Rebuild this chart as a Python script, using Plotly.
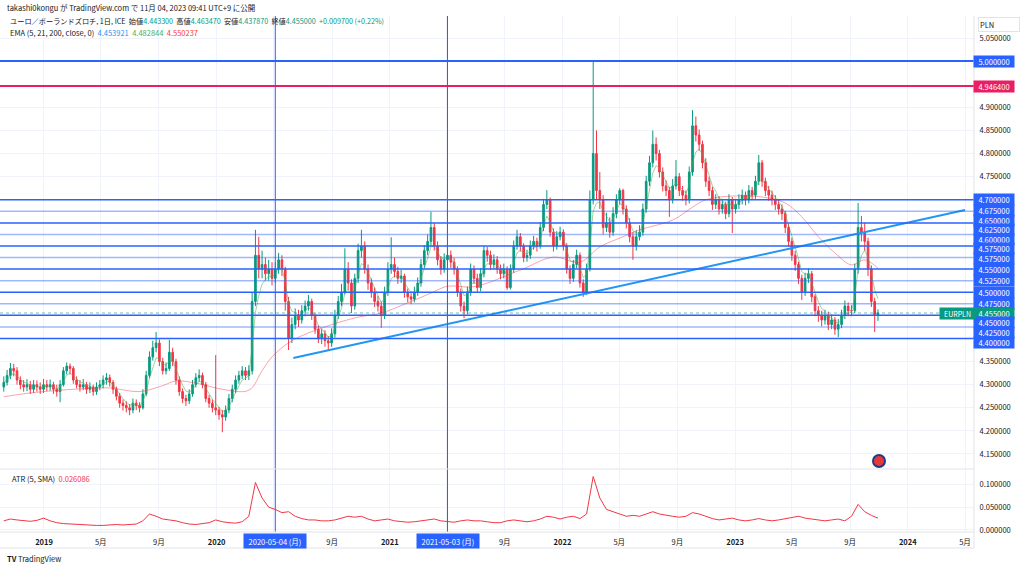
import plotly.graph_objects as go
import pandas as pd

FONT = "Noto Sans CJK JP"
UP = "#089981"
DN = "#f23645"

# ---------------- data (weekly candles) ----------------
dates = pd.date_range("2018-10-08", periods=265, freq="7D")

close = [4.305, 4.320, 4.335, 4.330, 4.310, 4.300, 4.295, 4.300, 4.290, 4.300,
         4.295, 4.290, 4.300, 4.295, 4.300, 4.290, 4.285, 4.300, 4.330, 4.340,
         4.335, 4.310, 4.300, 4.295, 4.300, 4.290, 4.295, 4.285, 4.295, 4.300,
         4.310, 4.315, 4.305, 4.290, 4.275, 4.260, 4.255, 4.250, 4.245, 4.260,
         4.255, 4.250, 4.280, 4.320, 4.360, 4.380, 4.390, 4.350, 4.330, 4.335,
         4.370, 4.350, 4.310, 4.285, 4.270, 4.265, 4.280, 4.300, 4.315, 4.320,
         4.300, 4.270, 4.260, 4.250, 4.245, 4.235, 4.230, 4.245, 4.270, 4.290,
         4.310, 4.320, 4.330, 4.320, 4.330, 4.480, 4.580, 4.550, 4.560, 4.540,
         4.550, 4.530, 4.550, 4.570, 4.550, 4.480, 4.400, 4.430, 4.450, 4.440,
         4.460, 4.470, 4.480, 4.450, 4.420, 4.400, 4.410, 4.395, 4.390, 4.410,
         4.450, 4.480, 4.500, 4.550, 4.520, 4.470, 4.530, 4.590, 4.600, 4.550,
         4.520, 4.500, 4.480, 4.470, 4.450, 4.500, 4.550, 4.560, 4.545, 4.530,
         4.535, 4.500, 4.490, 4.485, 4.500, 4.520, 4.560, 4.590, 4.610, 4.640,
         4.600, 4.570, 4.550, 4.570, 4.580, 4.565, 4.550, 4.500, 4.470, 4.460,
         4.500, 4.550, 4.530, 4.510, 4.540, 4.590, 4.580, 4.560, 4.570, 4.550,
         4.540, 4.550, 4.510, 4.550, 4.600, 4.620, 4.600, 4.575, 4.580, 4.600,
         4.610, 4.600, 4.640, 4.690, 4.700, 4.630, 4.600, 4.620, 4.630, 4.600,
         4.550, 4.530, 4.560, 4.580, 4.520, 4.500, 4.550, 4.700, 4.800, 4.720,
         4.700, 4.640, 4.650, 4.630, 4.670, 4.700, 4.720, 4.680, 4.650, 4.620,
         4.600, 4.620, 4.630, 4.680, 4.740, 4.780, 4.820, 4.800, 4.760, 4.730,
         4.720, 4.700, 4.730, 4.750, 4.720, 4.710, 4.700, 4.760, 4.860, 4.840,
         4.820, 4.780, 4.740, 4.720, 4.690, 4.700, 4.680, 4.690, 4.670, 4.700,
         4.680, 4.690, 4.700, 4.710, 4.700, 4.720, 4.710, 4.740, 4.780, 4.740,
         4.720, 4.710, 4.700, 4.690, 4.680, 4.670, 4.640, 4.610, 4.580, 4.560,
         4.530, 4.500, 4.530, 4.540, 4.490, 4.460, 4.450, 4.440, 4.450, 4.430,
         4.440, 4.420, 4.430, 4.450, 4.470, 4.460, 4.460, 4.550, 4.640, 4.630,
         4.610, 4.550, 4.480, 4.450, 4.455]

open_ = [4.295, 4.305, 4.320, 4.335, 4.330, 4.310, 4.300, 4.295, 4.300, 4.290,
         4.300, 4.295, 4.290, 4.300, 4.295, 4.300, 4.290, 4.285, 4.300, 4.330,
         4.340, 4.335, 4.310, 4.300, 4.295, 4.300, 4.290, 4.295, 4.285, 4.295,
         4.300, 4.310, 4.315, 4.305, 4.290, 4.275, 4.260, 4.255, 4.250, 4.245,
         4.260, 4.255, 4.250, 4.280, 4.320, 4.360, 4.380, 4.390, 4.350, 4.330,
         4.335, 4.370, 4.350, 4.310, 4.285, 4.270, 4.265, 4.280, 4.300, 4.315,
         4.320, 4.300, 4.270, 4.260, 4.250, 4.245, 4.235, 4.230, 4.245, 4.270,
         4.290, 4.310, 4.320, 4.330, 4.320, 4.330, 4.480, 4.580, 4.550, 4.560,
         4.540, 4.550, 4.530, 4.550, 4.570, 4.550, 4.480, 4.400, 4.430, 4.450,
         4.440, 4.460, 4.470, 4.480, 4.450, 4.420, 4.400, 4.410, 4.395, 4.390,
         4.410, 4.450, 4.480, 4.500, 4.550, 4.520, 4.470, 4.530, 4.590, 4.600,
         4.550, 4.520, 4.500, 4.480, 4.470, 4.450, 4.500, 4.550, 4.560, 4.545,
         4.530, 4.535, 4.500, 4.490, 4.485, 4.500, 4.520, 4.560, 4.590, 4.610,
         4.640, 4.600, 4.570, 4.550, 4.570, 4.580, 4.565, 4.550, 4.500, 4.470,
         4.460, 4.500, 4.550, 4.530, 4.510, 4.540, 4.590, 4.580, 4.560, 4.570,
         4.550, 4.540, 4.550, 4.510, 4.550, 4.600, 4.620, 4.600, 4.575, 4.580,
         4.600, 4.610, 4.600, 4.640, 4.690, 4.700, 4.630, 4.600, 4.620, 4.630,
         4.600, 4.550, 4.530, 4.560, 4.580, 4.520, 4.500, 4.550, 4.700, 4.800,
         4.720, 4.700, 4.640, 4.650, 4.630, 4.670, 4.700, 4.720, 4.680, 4.650,
         4.620, 4.600, 4.620, 4.630, 4.680, 4.740, 4.780, 4.820, 4.800, 4.760,
         4.730, 4.720, 4.700, 4.730, 4.750, 4.720, 4.710, 4.700, 4.760, 4.860,
         4.840, 4.820, 4.780, 4.740, 4.720, 4.690, 4.700, 4.680, 4.690, 4.670,
         4.700, 4.680, 4.690, 4.700, 4.710, 4.700, 4.720, 4.710, 4.740, 4.780,
         4.740, 4.720, 4.710, 4.700, 4.690, 4.680, 4.670, 4.640, 4.610, 4.580,
         4.560, 4.530, 4.500, 4.530, 4.540, 4.490, 4.460, 4.450, 4.440, 4.450,
         4.430, 4.440, 4.420, 4.430, 4.450, 4.470, 4.460, 4.460, 4.550, 4.640,
         4.630, 4.610, 4.550, 4.480, 4.450]

high = [4.318, 4.332, 4.347, 4.345, 4.338, 4.318, 4.310, 4.312, 4.308, 4.310,
        4.309, 4.305, 4.312, 4.310, 4.311, 4.306, 4.300, 4.310, 4.338, 4.348,
        4.346, 4.340, 4.318, 4.310, 4.312, 4.306, 4.305, 4.300, 4.305, 4.310,
        4.320, 4.325, 4.322, 4.310, 4.296, 4.282, 4.268, 4.264, 4.258, 4.270,
        4.268, 4.262, 4.290, 4.330, 4.372, 4.395, 4.414, 4.398, 4.358, 4.348,
        4.397, 4.380, 4.356, 4.318, 4.292, 4.278, 4.290, 4.310, 4.325, 4.333,
        4.326, 4.306, 4.278, 4.268, 4.364, 4.252, 4.245, 4.255, 4.280, 4.300,
        4.320, 4.330, 4.340, 4.338, 4.342, 4.500, 4.635, 4.620, 4.590, 4.575,
        4.570, 4.565, 4.565, 4.585, 4.580, 4.555, 4.490, 4.445, 4.465, 4.462,
        4.472, 4.482, 4.494, 4.486, 4.456, 4.428, 4.420, 4.418, 4.405, 4.422,
        4.462, 4.492, 4.518, 4.595, 4.565, 4.528, 4.540, 4.605, 4.635, 4.610,
        4.560, 4.530, 4.510, 4.492, 4.480, 4.512, 4.565, 4.619, 4.575, 4.555,
        4.548, 4.540, 4.508, 4.498, 4.512, 4.532, 4.572, 4.602, 4.625, 4.674,
        4.650, 4.610, 4.578, 4.584, 4.594, 4.590, 4.574, 4.556, 4.508, 4.480,
        4.512, 4.562, 4.558, 4.540, 4.552, 4.600, 4.598, 4.590, 4.582, 4.578,
        4.560, 4.562, 4.556, 4.560, 4.612, 4.635, 4.628, 4.606, 4.592, 4.612,
        4.622, 4.618, 4.652, 4.702, 4.721, 4.705, 4.638, 4.632, 4.642, 4.636,
        4.606, 4.558, 4.570, 4.592, 4.586, 4.528, 4.562, 4.720, 4.998, 4.850,
        4.760, 4.710, 4.672, 4.662, 4.684, 4.712, 4.725, 4.724, 4.688, 4.660,
        4.630, 4.634, 4.645, 4.692, 4.752, 4.795, 4.850, 4.835, 4.808, 4.770,
        4.742, 4.728, 4.745, 4.786, 4.758, 4.730, 4.720, 4.772, 4.894, 4.880,
        4.852, 4.828, 4.790, 4.750, 4.728, 4.712, 4.708, 4.702, 4.696, 4.712,
        4.706, 4.702, 4.712, 4.722, 4.718, 4.732, 4.728, 4.752, 4.797, 4.786,
        4.748, 4.730, 4.720, 4.710, 4.700, 4.690, 4.676, 4.648, 4.618, 4.590,
        4.566, 4.538, 4.542, 4.552, 4.546, 4.496, 4.470, 4.460, 4.462, 4.458,
        4.452, 4.446, 4.442, 4.462, 4.482, 4.478, 4.472, 4.562, 4.693, 4.665,
        4.650, 4.618, 4.558, 4.488, 4.463]

low = [4.285, 4.298, 4.312, 4.318, 4.300, 4.290, 4.285, 4.286, 4.280, 4.282,
       4.285, 4.280, 4.282, 4.286, 4.287, 4.280, 4.274, 4.262, 4.296, 4.322,
       4.322, 4.302, 4.292, 4.285, 4.288, 4.280, 4.282, 4.276, 4.278, 4.288,
       4.292, 4.300, 4.296, 4.280, 4.266, 4.250, 4.244, 4.240, 4.234, 4.238,
       4.245, 4.240, 4.246, 4.275, 4.314, 4.352, 4.370, 4.340, 4.322, 4.322,
       4.330, 4.340, 4.300, 4.276, 4.260, 4.254, 4.258, 4.274, 4.294, 4.306,
       4.292, 4.262, 4.250, 4.240, 4.234, 4.224, 4.197, 4.222, 4.238, 4.262,
       4.282, 4.302, 4.312, 4.310, 4.310, 4.322, 4.470, 4.530, 4.530, 4.525,
       4.525, 4.515, 4.520, 4.540, 4.535, 4.460, 4.375, 4.390, 4.420, 4.425,
       4.432, 4.448, 4.460, 4.440, 4.410, 4.390, 4.388, 4.382, 4.375, 4.382,
       4.402, 4.442, 4.470, 4.495, 4.505, 4.455, 4.462, 4.520, 4.575, 4.540,
       4.505, 4.488, 4.468, 4.458, 4.423, 4.442, 4.492, 4.540, 4.532, 4.518,
       4.520, 4.488, 4.478, 4.474, 4.478, 4.492, 4.512, 4.552, 4.580, 4.600,
       4.590, 4.558, 4.538, 4.542, 4.560, 4.552, 4.538, 4.490, 4.458, 4.444,
       4.452, 4.492, 4.518, 4.500, 4.502, 4.532, 4.566, 4.548, 4.550, 4.540,
       4.528, 4.530, 4.505, 4.506, 4.542, 4.592, 4.588, 4.565, 4.566, 4.572,
       4.592, 4.588, 4.594, 4.632, 4.680, 4.620, 4.588, 4.592, 4.612, 4.590,
       4.540, 4.518, 4.522, 4.552, 4.510, 4.490, 4.494, 4.545, 4.690, 4.700,
       4.680, 4.625, 4.630, 4.618, 4.622, 4.660, 4.690, 4.668, 4.638, 4.608,
       4.570, 4.590, 4.612, 4.622, 4.672, 4.730, 4.770, 4.785, 4.748, 4.718,
       4.708, 4.663, 4.692, 4.722, 4.708, 4.698, 4.688, 4.692, 4.752, 4.826,
       4.806, 4.768, 4.728, 4.708, 4.678, 4.680, 4.668, 4.670, 4.658, 4.662,
       4.628, 4.670, 4.680, 4.690, 4.688, 4.692, 4.700, 4.702, 4.732, 4.728,
       4.708, 4.698, 4.688, 4.678, 4.668, 4.656, 4.628, 4.598, 4.568, 4.546,
       4.518, 4.483, 4.492, 4.520, 4.478, 4.448, 4.436, 4.426, 4.430, 4.418,
       4.420, 4.408, 4.403, 4.422, 4.442, 4.448, 4.448, 4.455, 4.540, 4.610,
       4.590, 4.535, 4.468, 4.414, 4.438]

# EMA 200 read at these candle positions
ema200_idx = [0, 8, 17, 26, 32, 41, 48, 52, 59, 66, 74, 78, 81, 87, 97, 107, 114,
              122, 129, 134, 142, 156, 166, 174, 180, 187, 192, 202, 208, 212,
              220, 229, 236, 241, 246, 251, 256, 260, 264]
ema200_val = [4.274, 4.282, 4.288, 4.292, 4.293, 4.285, 4.298, 4.308, 4.302, 4.290,
              4.288, 4.330, 4.360, 4.395, 4.425, 4.446, 4.455, 4.477, 4.498, 4.513,
              4.512, 4.548, 4.576, 4.565, 4.598, 4.620, 4.635, 4.656, 4.684, 4.700,
              4.708, 4.706, 4.693, 4.663, 4.620, 4.585, 4.559, 4.570, 4.552]

# ATR (5, SMA), read every second candle
atr = [0.020, 0.024, 0.022, 0.020, 0.019, 0.021, 0.026, 0.020, 0.016, 0.014,
       0.013, 0.012, 0.011, 0.011, 0.010, 0.010, 0.011, 0.012, 0.011, 0.012,
       0.013, 0.020, 0.035, 0.030, 0.024, 0.022, 0.020, 0.016, 0.013, 0.012,
       0.014, 0.016, 0.022, 0.018, 0.016, 0.015, 0.018, 0.030, 0.104, 0.070,
       0.050, 0.045, 0.038, 0.040, 0.030, 0.025, 0.022, 0.022, 0.020, 0.020,
       0.022, 0.026, 0.030, 0.028, 0.030, 0.024, 0.020, 0.022, 0.024, 0.020,
       0.018, 0.017, 0.018, 0.020, 0.022, 0.024, 0.020, 0.018, 0.017, 0.020,
       0.022, 0.020, 0.020, 0.018, 0.016, 0.016, 0.020, 0.022, 0.020, 0.018,
       0.020, 0.024, 0.030, 0.028, 0.024, 0.028, 0.030, 0.025, 0.035, 0.117,
       0.070, 0.045, 0.040, 0.035, 0.030, 0.032, 0.030, 0.035, 0.040, 0.035,
       0.032, 0.030, 0.028, 0.030, 0.038, 0.035, 0.030, 0.025, 0.022, 0.024,
       0.026, 0.022, 0.020, 0.022, 0.025, 0.022, 0.020, 0.022, 0.025, 0.028,
       0.030, 0.026, 0.024, 0.022, 0.020, 0.022, 0.024, 0.020, 0.030, 0.056,
       0.040, 0.032, 0.026]

# horizontal levels drawn on the chart
levels_main = [4.40, 4.45, 4.50, 4.55, 4.60, 4.65, 4.70]
levels_minor = [4.425, 4.475, 4.525, 4.575, 4.625, 4.675]
level_top = 5.0
level_red = 4.9464
last_price = 4.455
trend_dates = ["2020-06-11", "2024-05-01"]
trend_vals = [4.3577, 4.678]
vlines = ["2020-05-04", "2021-05-03"]
vline_labels = ["2020-05-04 (月)", "2021-05-03 (月)"]

price_ticks = [4.15, 4.20, 4.25, 4.30, 4.35, 4.75, 4.80, 4.85, 4.90, 5.05]
atr_ticks = [0.0, 0.05, 0.10]
x_tickvals = ["2019-01-01", "2019-05-01", "2019-09-01", "2020-01-01", "2020-05-01",
              "2020-09-01", "2021-01-01", "2021-05-01", "2021-09-01", "2022-01-01",
              "2022-05-01", "2022-09-01", "2023-01-01", "2023-05-01", "2023-09-01",
              "2024-01-01", "2024-05-01"]
x_ticktext = ["<b>2019</b>", "5月", "9月", "<b>2020</b>", "", "9月", "<b>2021</b>", "",
              "9月", "<b>2022</b>", "5月", "9月", "<b>2023</b>", "5月", "9月",
              "<b>2024</b>", "5月"]

# price-scale labels: (text, pixel row, colour)
axis_labels = [("5.000000", 61, "#2962ff"), ("4.946400", 86, "#e91e63"),
               ("4.700000", 199.5, "#2962ff"), ("4.675000", 210.7, "#2962ff"),
               ("4.650000", 220.2, "#2962ff"), ("4.625000", 229.6, "#2962ff"),
               ("4.600000", 239.1, "#2962ff"), ("4.575000", 248.7, "#2962ff"),
               ("4.575000", 258.3, "#2962ff"), ("4.550000", 269.3, "#2962ff"),
               ("4.525000", 280.7, "#2962ff"), ("4.500000", 292.3, "#2962ff"),
               ("4.475000", 303.3, "#2962ff"), ("4.455000", 313.3, UP),
               ("4.450000", 322.8, "#2962ff"), ("4.425000", 332.3, "#2962ff"),
               ("4.400000", 342.0, "#2962ff")]

# ---------------- figure ----------------
W, H = 1024, 568
MT, MB, ML, MR = 16, 36, 0, 50
PH = H - MT - MB


def py(px):
    return (H - MB - px) / PH


ema21 = pd.Series(close).ewm(alpha=0.38, adjust=False).mean()

fig = go.Figure()
fig.add_trace(go.Candlestick(
    x=dates, open=open_, high=high, low=low, close=close,
    increasing=dict(line=dict(color=UP, width=1), fillcolor=UP),
    decreasing=dict(line=dict(color=DN, width=1), fillcolor=DN),
    whiskerwidth=0, xaxis="x", yaxis="y", hoverinfo="skip"))
fig.add_trace(go.Scatter(x=dates, y=ema21, mode="lines",
                         line=dict(color="rgba(76,175,80,0.55)", width=1),
                         xaxis="x", yaxis="y", hoverinfo="skip"))
fig.add_trace(go.Scatter(x=[dates[i] for i in ema200_idx], y=ema200_val, mode="lines",
                         line=dict(color="rgba(242,54,69,0.45)", width=1, shape="spline"),
                         xaxis="x", yaxis="y", hoverinfo="skip"))
fig.add_trace(go.Scatter(x=trend_dates, y=trend_vals, mode="lines",
                         line=dict(color="#2196f3", width=2),
                         xaxis="x", yaxis="y", hoverinfo="skip"))
fig.add_trace(go.Scatter(x=dates[::2][:len(atr)], y=atr, mode="lines",
                         line=dict(color="#f23645", width=1),
                         xaxis="x", yaxis="y2", hoverinfo="skip"))

shapes = []
for lv in levels_minor:
    shapes.append(dict(type="line", xref="paper", x0=0, x1=1, yref="y", y0=lv, y1=lv,
                       line=dict(color="rgba(41,98,255,0.45)", width=1.5)))
for lv in levels_main:
    shapes.append(dict(type="line", xref="paper", x0=0, x1=1, yref="y", y0=lv, y1=lv,
                       line=dict(color="#2962ff", width=1.5)))
shapes.append(dict(type="line", xref="paper", x0=0, x1=1, yref="y", y0=level_top,
                   y1=level_top, line=dict(color="#2962ff", width=2)))
shapes.append(dict(type="line", xref="paper", x0=0, x1=1, yref="y", y0=level_red,
                   y1=level_red, line=dict(color="#e91e63", width=2)))
shapes.append(dict(type="line", xref="paper", x0=0, x1=1, yref="y", y0=last_price,
                   y1=last_price, line=dict(color="rgba(8,153,129,0.6)", width=1, dash="dot")))
for d in vlines:
    shapes.append(dict(type="line", xref="x", x0=d, x1=d, yref="paper", y0=0, y1=1,
                       line=dict(color="#2962ff", width=1)))
# frame / separators
shapes.append(dict(type="line", xref="paper", x0=0, x1=1, yref="paper",
                   y0=py(469), y1=py(469), line=dict(color="#e0e3eb", width=1)))
shapes.append(dict(type="line", xref="paper", x0=1, x1=1, yref="paper",
                   y0=py(548), y1=py(16), line=dict(color="#e0e3eb", width=1)))
shapes.append(dict(type="line", xref="paper", x0=0, x1=1, yref="paper",
                   y0=0, y1=0, line=dict(color="#e0e3eb", width=1)))
shapes.append(dict(type="line", xref="paper", x0=0, x1=1, yref="paper",
                   y0=py(548), y1=py(548), line=dict(color="#e0e3eb", width=1)))
# marker circle near the bottom of price pane
shapes.append(dict(type="circle", xref="paper", yref="paper",
                   x0=873 / (W - ML - MR), x1=885 / (W - ML - MR),
                   y0=py(467), y1=py(455),
                   fillcolor="#e53935", line=dict(color="#1e3a8a", width=2)))

ann = []
ann.append(dict(text="takashi0kongu が TradingView.com で 11月 04, 2023 09:41 UTC+9 に公開",
                xref="paper", yref="paper", x=0, xshift=5, y=py(8), xanchor="left",
                yanchor="middle", showarrow=False, font=dict(size=7.5, color="#131722", family=FONT)))
g = "<span style='color:#089981'>%s</span>"
line1 = ("ユーロ／ポーランドズロチ, 1日, ICE\u00a0\u00a0始値" + g % "4.443300" + "\u00a0\u00a0高値"
         + g % "4.463470" + "\u00a0\u00a0安値" + g % "4.437870" + "\u00a0\u00a0終値" + g % "4.455000"
         + "\u00a0\u00a0" + g % "+0.009700 (+0.22%)")
ann.append(dict(text=line1, xref="paper", yref="paper", x=0, xshift=8, y=py(21),
                xanchor="left", yanchor="middle", showarrow=False,
                font=dict(size=7.2, color="#131722", family=FONT)))
line2 = ("EMA (5, 21, 200, close, 0)\u00a0\u00a0<span style='color:#2196f3'>4.453921</span>"
         "\u00a0\u00a0<span style='color:#4caf50'>4.482844</span>"
         "\u00a0\u00a0<span style='color:#f44336'>4.550237</span>")
ann.append(dict(text=line2, xref="paper", yref="paper", x=0, xshift=8, y=py(33),
                xanchor="left", yanchor="middle", showarrow=False,
                font=dict(size=7.5, color="#131722", family=FONT)))
ann.append(dict(text="ATR (5, SMA)\u00a0\u00a0<span style='color:#f23645'>0.026086</span>",
                xref="paper", yref="paper", x=0, xshift=10, y=py(478),
                xanchor="left", yanchor="middle", showarrow=False,
                font=dict(size=7.5, color="#131722", family=FONT)))
ann.append(dict(text="PLN", xref="paper", yref="paper", x=1, xshift=4, y=py(24),
                xanchor="left", yanchor="middle", showarrow=False, width=38, height=11,
                align="left", bordercolor="#e0e3eb", borderwidth=1, bgcolor="white",
                font=dict(size=7.5, color="#131722", family=FONT)))
for txt, pxy, col in axis_labels:
    ann.append(dict(text=txt, xref="paper", yref="paper", x=1, xshift=-1, y=py(pxy),
                    xanchor="left", yanchor="middle", showarrow=False, width=38, height=9,
                    bgcolor=col, font=dict(size=7.5, color="white", family=FONT)))
ann.append(dict(text="EURPLN", xref="paper", yref="paper", x=1, xshift=-35, y=py(313.3),
                xanchor="left", yanchor="middle", showarrow=False, width=33, height=9,
                bgcolor=UP, font=dict(size=7, color="white", family=FONT)))
for d, t in zip(vlines, vline_labels):
    ann.append(dict(text=t, xref="x", yref="paper", x=d, y=py(541), xanchor="center",
                    yanchor="middle", showarrow=False, width=60, height=12, bgcolor="#2962ff",
                    font=dict(size=7.5, color="white", family=FONT)))
ann.append(dict(text="<b>TV</b>\u00a0TradingView", xref="paper", yref="paper", x=0, xshift=5,
                y=py(558), xanchor="left", yanchor="middle", showarrow=False,
                font=dict(size=7.5, color="#131722", family=FONT)))

fig.update_layout(
    width=W, height=H, margin=dict(l=ML, r=MR, t=MT, b=MB),
    paper_bgcolor="white", plot_bgcolor="white", showlegend=False,
    shapes=shapes, annotations=ann,
    xaxis=dict(type="date", range=["2018-09-30", "2024-05-20"], anchor="y2",
               rangeslider=dict(visible=False), tickvals=x_tickvals, ticktext=x_ticktext,
               showgrid=True, gridcolor="#f0f3fa", gridwidth=1, zeroline=False,
               ticks="outside", ticklen=3, tickcolor="rgba(0,0,0,0)",
               tickfont=dict(size=7.5, color="#131722", family=FONT), showline=False),
    yaxis=dict(domain=[py(468), 1], range=[4.1197, 5.0976], side="right", anchor="x",
               tickvals=price_ticks, ticktext=["%.6f" % v for v in price_ticks],
               showgrid=True, gridcolor="#f0f3fa", zeroline=False,
               ticks="outside", ticklen=3, tickcolor="rgba(0,0,0,0)",
               tickfont=dict(size=7.5, color="#131722", family=FONT)),
    yaxis2=dict(domain=[0, py(470)], range=[-0.0044, 0.1313], side="right", anchor="x",
                tickvals=atr_ticks, ticktext=["%.6f" % v for v in atr_ticks],
                showgrid=True, gridcolor="#f0f3fa", zeroline=False,
                ticks="outside", ticklen=3, tickcolor="rgba(0,0,0,0)",
                tickfont=dict(size=7.5, color="#131722", family=FONT)),
)

fig.write_html("out.html", config={"displayModeBar": False},
               post_script="document.body.style.margin='0px';document.body.style.padding='0px';")
